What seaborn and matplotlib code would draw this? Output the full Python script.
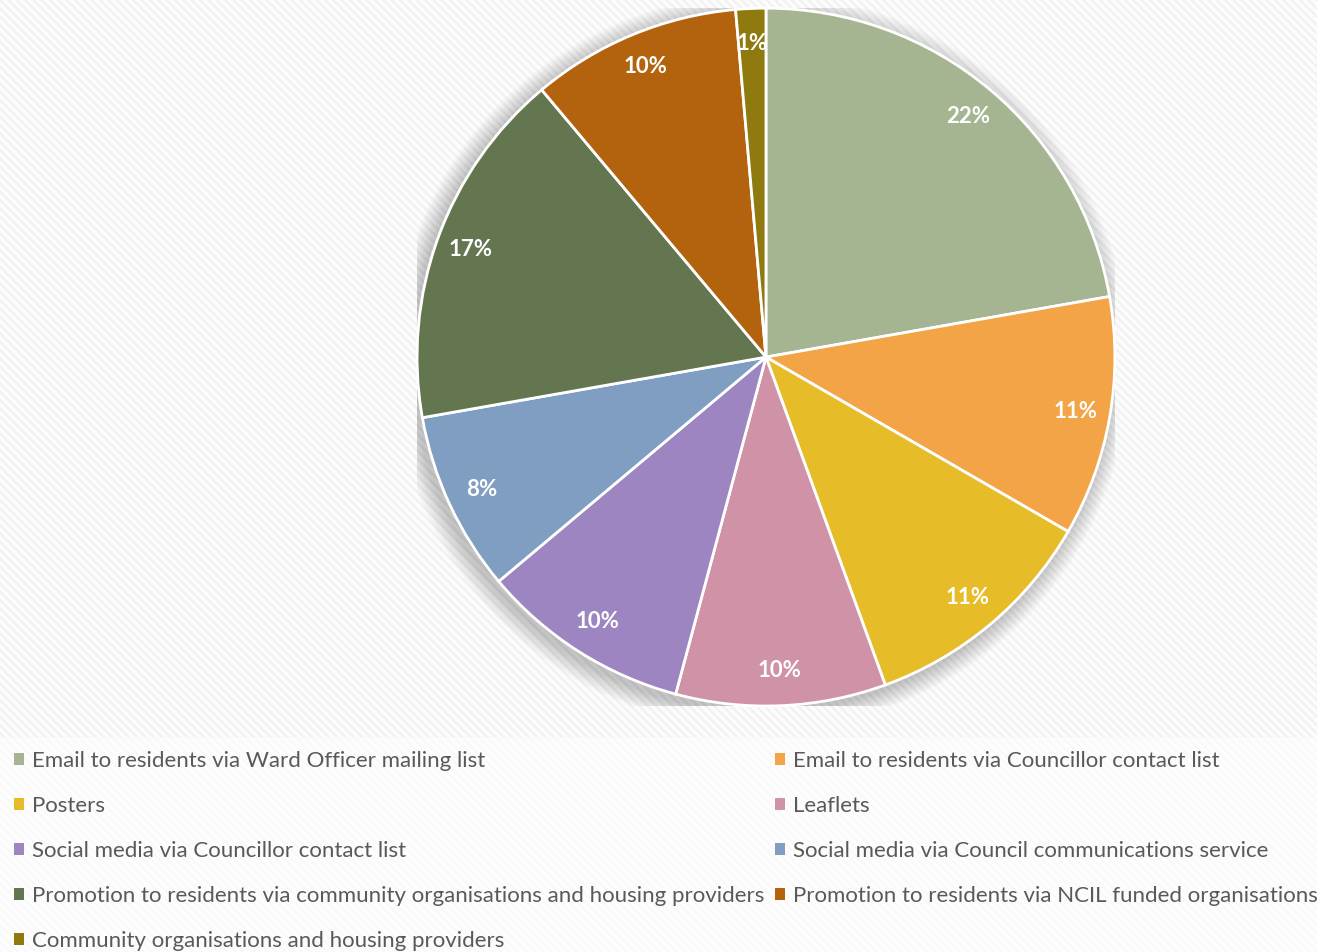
import matplotlib
matplotlib.use("Agg")
import matplotlib.pyplot as plt
import matplotlib.patches as mpatches
import seaborn as sns

# responses per promotion channel (72 in total)
channels = [
    "Email to residents via Ward Officer mailing list",
    "Email to residents via Councillor contact list",
    "Posters",
    "Leaflets",
    "Social media via Councillor contact list",
    "Social media via Council communications service",
    "Promotion to residents via community organisations and housing providers",
    "Promotion to residents via NCIL funded organisations",
    "Community organisations and housing providers",
]
counts = [16, 8, 8, 7, 7, 6, 12, 7, 1]
slice_colors = ["#A5B592", "#F3A447", "#E7BC29", "#D092A7", "#9C85C0",
                "#809EC2", "#637650", "#B3620E", "#8F7A0F"]

sns.set_style("white")
plt.rcParams['font.family'] = ['Lato', 'DejaVu Sans']
plt.rcParams['hatch.linewidth'] = 1.6

palette = sns.color_palette(slice_colors)

fig = plt.figure(figsize=(13.17, 9.52), dpi=100)
fig.patch.set_facecolor("white")

# patterned background
bg = mpatches.Rectangle((0, 0), 1, 1, transform=fig.transFigure, facecolor="#FCFCFC",
                        hatch="\\\\\\\\", edgecolor="#F1F1F1", linewidth=0, zorder=-10)
fig.patches.append(bg)
leg_bg = mpatches.Rectangle((0, 0), 1, 1 - 737 / 952, transform=fig.transFigure,
                            facecolor="white", alpha=0.6, edgecolor="none", zorder=-9)
fig.patches.append(leg_bg)

ax = fig.add_axes([0.3166, 0.2584, 0.530, 0.733])
ax.set_facecolor("none")

# soft shadow behind the pie
for i in range(14):
    r = 1.0 + 0.004 * (i + 1)
    ax.add_patch(mpatches.Circle((-0.012, -0.014), r, color="black",
                                 alpha=0.016, lw=0, zorder=0))

wedges, texts, autotexts = ax.pie(
    counts, colors=palette, startangle=90, counterclock=False,
    autopct=lambda p: f"{p:.0f}%", pctdistance=0.9,
    wedgeprops=dict(edgecolor="white", linewidth=2),
    textprops=dict(color="white", fontsize=16, fontweight="bold"))
for w in wedges:
    w.set_zorder(2)
for t in autotexts:
    t.set_zorder(3)
ax.set_xlim(-1, 1)
ax.set_ylim(-1, 1)
ax.set_aspect("equal")
ax.axis("off")

order = [0, 2, 4, 6, 8, 1, 3, 5, 7]
handles = [wedges[i] for i in order]
labels = [channels[i] for i in order]
leg = fig.legend(handles, labels, loc="upper left", ncol=2,
                 bbox_to_anchor=(0.011, 1 - 751 / 952), frameon=False,
                 fontsize=16, handlelength=0.45, handleheight=0.45,
                 handletextpad=0.36, labelspacing=1.12, columnspacing=0.45,
                 borderaxespad=0, borderpad=0)
for t in leg.get_texts():
    t.set_color("#595959")
for h in leg.legend_handles:
    h.set_edgecolor("none")

fig.savefig("out.png", dpi=100)
